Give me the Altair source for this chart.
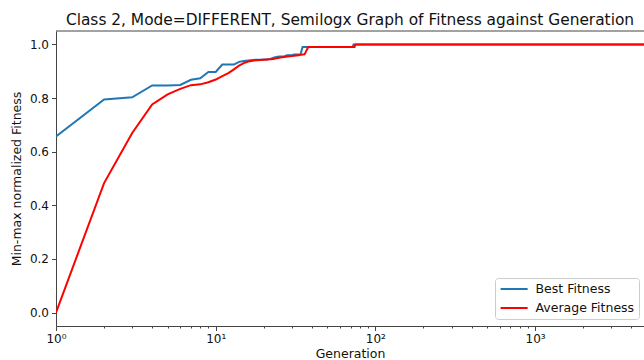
import altair as alt
import pandas as pd

# ---- data ----
generations = list(range(1, 39)) + [72, 73, 74, 75, 5000]
best_fitness = [0.657, 0.795, 0.803, 0.847, 0.847, 0.849, 0.868, 0.874, 0.897, 0.897,
                0.925, 0.925, 0.925, 0.935, 0.938, 0.940, 0.942, 0.943, 0.943, 0.944,
                0.944, 0.946, 0.950, 0.953, 0.955, 0.955, 0.956, 0.960, 0.960, 0.960,
                0.962, 0.962, 0.962, 0.963, 0.990, 0.990, 0.990, 0.990,
                0.990, 1.0, 1.0, 1.0, 1.0]
avg_fitness = [0.0, 0.483, 0.670, 0.776, 0.814, 0.834, 0.848, 0.851, 0.859, 0.869,
               0.882, 0.893, 0.907, 0.921, 0.930, 0.936, 0.939, 0.941, 0.942, 0.943,
               0.944, 0.945, 0.946, 0.948, 0.950, 0.952, 0.953, 0.955, 0.956, 0.957,
               0.958, 0.959, 0.960, 0.961, 0.962, 0.963, 0.977, 0.990,
               0.990, 0.990, 0.990, 1.0, 1.0]
series_names = ["Best Fitness", "Average Fitness"]
series_colors = ["#1f77b4", "#ff0000"]
major_ticks = [1, 10, 100, 1000]
minor_ticks = [2, 3, 4, 5, 6, 7, 8, 9, 20, 30, 40, 50, 60, 70, 80, 90,
               200, 300, 400, 500, 600, 700, 800, 900, 2000, 3000, 4000]
y_ticks = [0.0, 0.2, 0.4, 0.6, 0.8, 1.0]
x_domain = [1, 4808]
y_domain = [-0.05, 1.05]

W, H = 588, 295
FONT = "DejaVu Sans"
AXIS_COLOR = "#444"
TEXT_COLOR = "#111"

best_df = pd.DataFrame({"Generation": generations, "Fitness": best_fitness,
                        "Series": [series_names[0]] * len(generations)})
avg_df = pd.DataFrame({"Generation": generations, "Fitness": avg_fitness,
                       "Series": [series_names[1]] * len(generations)})

x_enc = alt.X(
    "Generation:Q",
    scale=alt.Scale(type="log", domain=x_domain, nice=False),
    axis=alt.Axis(
        title="Generation",
        values=sorted(major_ticks + minor_ticks),
        labelExpr="datum.value == 1 ? '10⁰' : datum.value == 10 ? '10¹' : datum.value == 100 ? '10²' : datum.value == 1000 ? '10³' : ''",
        tickSize={"condition": {"test": "indexof([1,10,100,1000], datum.value) >= 0", "value": 4.5}, "value": 2},
        labelFlush=False,
        labelOverlap=False,
        grid=False,
        labelPadding=3,
        titlePadding=3,
    ),
)

y_enc = alt.Y(
    "Fitness:Q",
    scale=alt.Scale(domain=y_domain, nice=False, zero=False),
    axis=alt.Axis(
        title="Min-max normalized Fitness",
        values=y_ticks,
        format=".1f",
        grid=False,
        tickSize=4.5,
        labelPadding=3,
        titlePadding=6,
    ),
)

color_enc = alt.Color(
    "Series:N",
    scale=alt.Scale(domain=series_names, range=series_colors),
    legend=alt.Legend(
        title=None,
        orient="none",
        legendX=439,
        legendY=247,
        symbolType="M-1,0H4",
        symbolSize=117,
        symbolStrokeWidth=2,
        labelOffset=23,
        labelFontSize=12.5,
        labelFont=FONT,
        labelColor=TEXT_COLOR,
        fillColor="rgba(255,255,255,0.8)",
        strokeColor="#cccccc",
        cornerRadius=3,
        padding=4.5,
        rowPadding=6,
    ),
)

best = alt.Chart(best_df).mark_line(strokeWidth=2, clip=True).encode(
    x=x_enc, y=y_enc, color=color_enc
)

avg = alt.Chart(avg_df).mark_line(strokeWidth=2, clip=True).encode(
    x=alt.X("Generation:Q"), y=alt.Y("Fitness:Q"), color=alt.Color("Series:N")
)

top_rule = alt.Chart(pd.DataFrame({"k": [0]})).mark_rule(color=AXIS_COLOR, strokeWidth=1).encode(
    x=alt.value(0), x2=alt.value(W), y=alt.value(0)
)

chart = (
    alt.layer(best, avg, top_rule)
    .properties(
        width=W,
        height=H,
        padding={"left": 56, "top": 31, "right": 0, "bottom": 34},
        autosize=alt.AutoSizeParams(type="none"),
        title=alt.TitleParams(
            "Class 2, Mode=DIFFERENT, Semilogx Graph of Fitness against Generation",
            fontSize=15.4,
            fontWeight="normal",
            font=FONT,
            color=TEXT_COLOR,
            anchor="middle",
            baseline="alphabetic",
            offset=-10,
        ),
    )
    .configure_view(stroke=None)
    .configure_axis(
        domainColor=AXIS_COLOR,
        tickColor=AXIS_COLOR,
        labelFont=FONT,
        labelFontSize=12,
        labelColor=TEXT_COLOR,
        titleFont=FONT,
        titleFontSize=12.5,
        titleFontWeight="normal",
        titleColor=TEXT_COLOR,
    )
)

chart.save("out.html", embed_options={"renderer": "svg", "actions": False})
